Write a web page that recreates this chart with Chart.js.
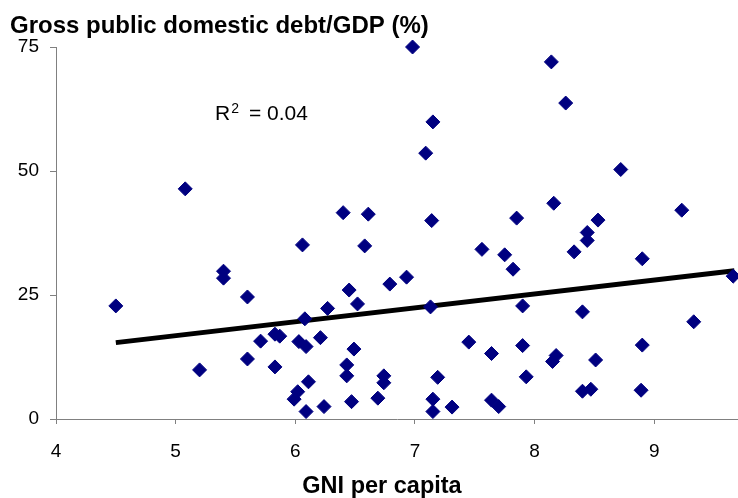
<!DOCTYPE html>
<html>
<head>
<meta charset="utf-8">
<script src="https://cdn.jsdelivr.net/npm/chart.js@4.4.1/dist/chart.umd.min.js"></script>
<style>
  html, body { margin: 0; padding: 0; background: #fff; }
  #wrap { width: 738px; height: 498px; position: relative; }
</style>
</head>
<body>
<div id="wrap"><canvas id="debtChart"></canvas></div>
<script>
// ── Data ──────────────────────────────────────────────────────────────────────
const gniPerCapita = [
    4.50, 5.08, 5.20, 5.40, 5.40, 5.60, 5.60, 5.71, 5.83, 5.83, 5.87,
    5.99, 6.02, 6.03, 6.09, 6.06, 6.08, 6.09, 6.11, 6.21, 6.24, 6.27,
    6.40, 6.45, 6.52, 6.43, 6.43, 6.49, 6.47, 6.61, 6.58,
    6.98, 7.15, 7.09, 8.14, 8.26, 8.72, 8.16, 7.14, 7.85, 8.53, 9.23, 8.44, 8.44,
    7.56, 7.75, 8.33, 8.90, 7.82, 6.79, 6.93, 9.66, 7.13, 7.90, 8.40, 9.33,
    7.45, 7.64, 7.90, 8.90, 8.18, 8.15, 8.51,
    6.74, 6.74, 7.19, 7.93, 6.69, 7.15, 7.15, 7.31, 7.64, 7.70, 8.40, 8.47, 8.89
];
const debtToGdp = [
    22.8, 46.4, 9.9, 29.8, 28.4, 24.6, 12.1, 15.7, 10.5, 17.1, 16.7,
    4.0, 5.5, 15.6, 14.6, 35.1, 20.2, 1.5, 7.5, 16.4, 2.5, 22.3,
    41.6, 26.0, 23.2, 10.9, 8.7, 14.1, 3.5, 41.3, 34.9,
    75.0, 59.9, 53.6, 72.0, 63.7, 50.3, 43.5, 40.0, 40.5, 40.1, 42.1, 37.6, 36.0,
    34.2, 33.1, 33.7, 32.3, 30.2, 27.2, 28.6, 28.8, 22.6, 22.8, 21.6, 19.6,
    15.5, 13.2, 14.8, 14.9, 12.8, 11.6, 11.9,
    8.7, 7.3, 8.4, 8.5, 4.2, 4.0, 1.5, 2.4, 3.8, 2.5, 5.6, 6.0, 5.8
];
// linear trend line end points
const trendX = [4.5, 9.67];
const trendY = [15.4, 29.9];

const xTicks = [4, 5, 6, 7, 8, 9];
const yTicks = [0, 25, 50, 75];

const titleText  = "Gross public domestic debt/GDP (%)";
const xTitleText = "GNI per capita";
const rSquared   = "0.04";

// ── Text drawn on top (title, axis title, R²) ─────────────────────────────────
const FONT = "'Liberation Sans', Arial, sans-serif";
const textPlugin = {
    id: "texts",
    afterDraw(chart) {
        const c = chart.ctx;
        c.save();
        c.fillStyle = "#000";
        c.textBaseline = "alphabetic";

        c.textAlign = "left";
        c.font = "bold 24px " + FONT;
        c.fillText(titleText, 10, 33);

        c.textAlign = "center";
        c.font = "bold 23.5px " + FONT;
        c.fillText(xTitleText, 382, 493);

        c.textAlign = "left";
        c.font = "21px " + FONT;
        c.fillText("R", 215, 119.5);
        const rw = c.measureText("R").width;
        c.font = "14px " + FONT;
        c.fillText("2", 215 + rw + 1, 112.5);
        c.font = "21px " + FONT;
        c.fillText("= " + rSquared, 249, 119.5);
        c.restore();
    }
};

// ── Chart setup ───────────────────────────────────────────────────────────────
const points = gniPerCapita.map((x, i) => ({ x: x, y: debtToGdp[i] }));
const trend  = trendX.map((x, i) => ({ x: x, y: trendY[i] }));

const ctx = document.getElementById("debtChart").getContext("2d");
new Chart(ctx, {
    type: "scatter",
    data: {
        datasets: [{
            data: points,
            pointStyle: "rectRot",
            pointRadius: 7,
            pointHoverRadius: 7,
            backgroundColor: "#000080",
            borderColor: "#000080",
            borderWidth: 1,
            clip: false,
            order: 1
        }, {
            data: trend,
            showLine: true,
            borderColor: "#000",
            borderWidth: 5,
            pointRadius: 0,
            fill: false,
            order: 2
        }]
    },
    options: {
        responsive: true,
        maintainAspectRatio: false,
        animation: false,
        layout: { autoPadding: false, padding: { top: 47, left: 0, right: 0, bottom: 0 } },
        plugins: {
            legend: { display: false },
            tooltip: { enabled: false }
        },
        scales: {
            x: {
                type: "linear",
                min: 4,
                max: 9.7,
                afterFit: s => { s.height = 79; },
                afterBuildTicks: s => { s.ticks = xTicks.map(v => ({ value: v })); },
                ticks: {
                    color: "#000",
                    font: { family: FONT, size: 19 },
                    padding: 16,
                    includeBounds: false
                },
                grid: { display: true, drawOnChartArea: false, drawTicks: true, tickLength: 5, color: "#808080" },
                border: { display: true, color: "#808080", width: 1 }
            },
            y: {
                min: 0,
                max: 75,
                afterFit: s => { s.width = 56; },
                afterBuildTicks: s => { s.ticks = yTicks.map(v => ({ value: v })); },
                ticks: {
                    color: "#000",
                    font: { family: FONT, size: 19 },
                    padding: 11
                },
                grid: { display: true, drawOnChartArea: false, drawTicks: true, tickLength: 6, color: "#808080" },
                border: { display: true, color: "#808080", width: 1 }
            }
        }
    },
    plugins: [textPlugin]
});
</script>
</body>
</html>
